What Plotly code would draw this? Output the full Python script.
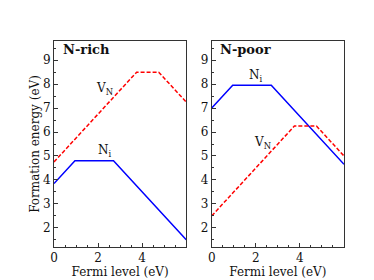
import plotly.graph_objects as go
from plotly.subplots import make_subplots

# Data
rich_ni_x = [0, 0.95, 2.7, 6.0]
rich_ni_y = [3.85, 4.8, 4.8, 1.5]
rich_vn_x = [0, 3.75, 4.75, 6.0]
rich_vn_y = [4.75, 8.5, 8.5, 7.25]
poor_ni_x = [0, 0.95, 2.7, 6.0]
poor_ni_y = [7.0, 7.95, 7.95, 4.65]
poor_vn_x = [0, 3.75, 4.75, 6.0]
poor_vn_y = [2.5, 6.25, 6.25, 5.0]
panel_titles = ["N-rich", "N-poor"]
x_ticks = [0, 2, 4]
y_ticks = [2, 3, 4, 5, 6, 7, 8, 9]

FONT = "DejaVu Serif"

fig = make_subplots(rows=1, cols=2, horizontal_spacing=0.088)

blue = dict(color="#0000ff", width=1.5)
red = dict(color="#ff0000", width=1.5, dash="4px,2px")

fig.add_trace(go.Scatter(x=rich_ni_x, y=rich_ni_y, mode="lines", line=blue), 1, 1)
fig.add_trace(go.Scatter(x=rich_vn_x, y=rich_vn_y, mode="lines", line=red), 1, 1)
fig.add_trace(go.Scatter(x=poor_ni_x, y=poor_ni_y, mode="lines", line=blue), 1, 2)
fig.add_trace(go.Scatter(x=poor_vn_x, y=poor_vn_y, mode="lines", line=red), 1, 2)

axis_common = dict(
    showgrid=False, zeroline=False, showline=True, mirror=True,
    linecolor="#333333", linewidth=1, ticks="inside", ticklen=4,
    tickcolor="#333333", tickfont=dict(family=FONT, size=12, color="#111111"),
    minor=dict(ticks="inside", ticklen=2, dtick=0.5, tickcolor="#333333"),
)
for c in (1, 2):
    fig.update_xaxes(range=[0, 6], tickvals=x_ticks, row=1, col=c,
                     title=dict(text="Fermi level (eV)", font=dict(family=FONT, size=12, color="#111111"),
                                standoff=2),
                     **axis_common)
    fig.update_yaxes(range=[1.2, 9.8], tickvals=y_ticks, row=1, col=c, **axis_common)
fig.update_yaxes(title=dict(text="Formation energy (eV)", font=dict(family=FONT, size=12, color="#111111"),
                            standoff=0), row=1, col=1)

ann = [
    ("x", "y", 0.3, 9.45, "<b>N-rich</b>", "left", 13),
    ("x2", "y2", 0.3, 9.45, "<b>N-poor</b>", "left", 13),
    ("x", "y", 2.3, 7.8, "V<sub>N</sub>", "center", 12),
    ("x", "y", 2.3, 5.2, "N<sub>i</sub>", "center", 12),
    ("x2", "y2", 2.0, 8.33, "N<sub>i</sub>", "center", 12),
    ("x2", "y2", 2.3, 5.55, "V<sub>N</sub>", "center", 12),
]
for xr, yr, x, y, t, al, sz in ann:
    fig.add_annotation(xref=xr, yref=yr, x=x, y=y, text=t, showarrow=False,
                       xanchor=al, yanchor="middle",
                       font=dict(family=FONT, size=sz, color="#111111"))

fig.update_layout(
    width=374, height=280, showlegend=False,
    margin=dict(l=46, r=38, t=33, b=31),
    paper_bgcolor="white", plot_bgcolor="white",
)
fig.write_html("out.html")
